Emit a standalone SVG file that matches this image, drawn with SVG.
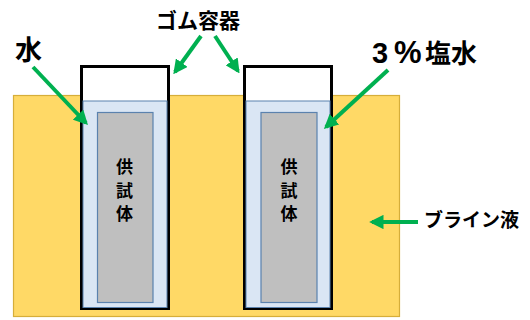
<svg xmlns="http://www.w3.org/2000/svg" width="530" height="320" viewBox="0 0 530 320">
<style>
.lbl{font-family:"Noto Sans CJK JP","Liberation Sans",sans-serif;font-weight:bold;fill:#000}
.cont{fill:#fff;stroke:#000;stroke-width:3}
.water{fill:#DAE6F4;stroke:#5B82AE;stroke-width:1}
.spec{fill:#BFBFBF;stroke:#5B82AE;stroke-width:1.2}
.arr{stroke:#00B050;stroke-width:4;fill:none;marker-end:url(#ah)}
.latin{font-family:"Liberation Sans",Arial,sans-serif}
</style>
<defs>
<marker id="ah" viewBox="0 0 10 10" refX="8" refY="5" markerWidth="3.6" markerHeight="3.6" orient="auto" markerUnits="strokeWidth">
<path d="M0,0 L10,5 L0,10 z" fill="#00B050"/>
</marker>
</defs>
<g id="brine">
<rect x="13.5" y="95.5" width="386" height="221" fill="#FFD966" stroke="#D6AE3A" stroke-width="1.2"/>
</g>
<g id="container-left">
<rect class="cont" x="81.5" y="66.5" width="87" height="242"/>
<rect class="water" x="83" y="101" width="84" height="206.5"/>
<rect class="spec" x="97.5" y="112.5" width="55.5" height="190"/>
<text class="lbl" font-size="17" text-anchor="middle" x="124.5"><tspan x="124.5" y="173">供</tspan><tspan x="124.5" y="197">試</tspan><tspan x="124.5" y="220">体</tspan></text>
</g>
<g id="container-right">
<rect class="cont" x="244.5" y="66.5" width="87" height="242"/>
<rect class="water" x="246" y="101" width="84" height="206.5"/>
<rect class="spec" x="261" y="112.5" width="56" height="190"/>
<text class="lbl" font-size="17" text-anchor="middle" x="289"><tspan x="289" y="173">供</tspan><tspan x="289" y="197">試</tspan><tspan x="289" y="220">体</tspan></text>
</g>
<g id="label-rubber"><text class="lbl" font-size="21" x="198" y="28" text-anchor="middle">ゴム容器</text></g>
<g id="label-water"><text class="lbl" font-size="27" x="15" y="60">水</text></g>
<g id="label-salt"><text class="lbl" font-size="26" y="63"><tspan class="latin" x="372" font-size="29">3</tspan><tspan class="latin" x="394" font-size="31">%</tspan><tspan x="425">塩水</tspan></text></g>
<g id="label-brine"><text class="lbl" font-size="19" x="424" y="227">ブライン液</text></g>
<g id="connectors">
<line class="arr" x1="33" y1="67" x2="86" y2="123"/>
<line class="arr" x1="201" y1="36" x2="175" y2="72"/>
<line class="arr" x1="215" y1="36" x2="238" y2="71"/>
<line class="arr" x1="388" y1="70" x2="326" y2="127"/>
<line class="arr" x1="418" y1="222" x2="372" y2="222"/>
</g>
</svg>
